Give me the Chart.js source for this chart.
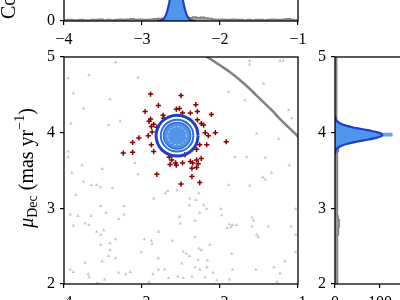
<!DOCTYPE html>
<html><head><meta charset="utf-8">
<script src="https://cdn.jsdelivr.net/npm/chart.js@4.4.0/dist/chart.umd.min.js"></script>
<style>
html,body{margin:0;padding:0;width:400px;height:300px;overflow:hidden;background:#fff;}
canvas{position:absolute;}
</style></head><body>
<canvas id="top" width="400" height="100" style="left:0;top:-49px"></canvas>
<canvas id="right" width="107" height="300" style="left:300px;top:0"></canvas>
<canvas id="main" width="400" height="300" style="left:0;top:0"></canvas>
<script>
// ---------- data ----------
const xTicks = [-4, -3, -2, -1];
const yTicks = [2, 3, 4, 5];
const topCountTicks = [0];
const rightCountTicks = [0, 100];

// pmRA histogram (all stars), bins of 0.05 from -4 to -1
const raBinStart = -4, raBinWidth = 0.05;
const raCounts = [3,4,3,3,4,3,3,4,4,5, 3,4,3,4,5,4,5,6,4,5, 4,4,5,6,7,7,8,9,10,12, 11,10,9,11,9,10,8,7,5,4, 5,4,4,5,4,4,3,4,3,4, 4,3,4,5,4,4,5,6,4,3];
// pmDec histogram (all stars), bins of 0.05 from 2 to 5
const decBinStart = 2, decBinWidth = 0.05;
const decCounts = [6,6,5,6,6,5,5,6,6,5, 5,6,6,7,8,10,9,7,6,5, 6,5,6,5,5,6,5,5,5,6, 5,5,5,6,6,7,8,9,7,6, 5,5,5,4,4,4,4,4,4,3, 4,3,4,4,3,4,3,4,3,4];
// member pmDec histogram, bins of 0.05 from 3.70
const memDecBinStart = 3.70, memDecBinWidth = 0.05;
const memDecCounts = [1,3,12,36,84,128,78,34,11,2,0];

// Gaussian fit curves (sampled)
const raFitX = [-2.81,-2.77,-2.74,-2.71,-2.68,-2.65,-2.62,-2.59,-2.56,-2.53,-2.50,-2.47,-2.44,-2.41,-2.38,-2.35,-2.31];
const raFitY = [0.1,0.8,3.1,9.6,24.3,50,84,114.6,127,114.6,84,50,24.3,9.6,3.1,0.8,0.1];
const decFitY = [3.72,3.76,3.79,3.82,3.85,3.88,3.91,3.94,3.97,4.00,4.03,4.06,4.09,4.12,4.15,4.18,4.22];
const decFitN = [0.25,1.5,4.6,12.0,26.2,48.1,74.2,96.3,105,96.3,74.2,48.1,26.2,12.0,4.6,1.5,0.25];

// field stars (pmRA, pmDec)
const fieldStars = [
[-3.34,4.93],[-3.95,4.72],[-3.68,4.76],[-3.05,4.73],[-3.88,4.52],[-3.75,4.32],[-3.41,4.44],[-3.91,4.12],[-3.43,4.10],[-3.28,4.15],[-3.95,3.75],[-3.95,3.68],[-3.77,3.57],[-3.51,3.52],[-3.09,3.60],
[-3.90,3.47],[-3.05,3.45],[-3.75,3.35],[-3.65,3.31],[-3.58,3.31],[-3.53,3.28],[-3.38,3.27],[-3.85,3.18],[-2.85,3.13],[-2.70,3.20],[-2.67,3.23],[-2.55,3.24],[-3.53,3.03],[-3.23,3.03],[-3.92,2.92],[-3.82,2.90],[-3.65,2.90],[-3.46,2.94],[-3.23,2.92],[-3.30,2.86],[-3.88,2.77],[-3.73,2.80],[-3.68,2.78],[-3.58,2.69],[-3.49,2.71],[-3.53,2.65],[-3.34,2.59],[-3.41,2.54],[-3.53,2.52],[-3.41,2.45],[-3.43,2.37],[-3.34,2.34],[-3.51,2.30],[-3.73,2.28],[-3.92,2.19],[-3.88,2.16],[-3.69,2.13],[-3.68,2.09],[-3.48,2.06],[-3.58,2.01],[-3.30,2.15],[-3.21,2.13],[-3.15,2.16],[-2.97,2.59],[-2.88,2.57],[-2.87,2.53],[-2.79,2.69],[-2.61,2.57],[-3.01,2.42],[-2.79,2.34],[-2.79,2.19],[-2.71,2.19],[-2.86,2.13],[-2.66,2.08],[-2.54,2.10],[-2.91,2.03],[-2.52,2.89],[-2.51,2.80],
[-1.45,3.41],[-1.42,3.38],[-1.34,3.47],[-1.89,3.31],[-1.62,3.30],[-2.27,3.20],[-2.39,3.13],[-2.31,3.11],[-2.39,3.04],[-2.21,3.04],[-2.17,2.99],[-2.26,2.94],[-1.99,2.99],[-1.98,2.91],[-2.32,2.84],[-1.91,2.74],[-1.88,2.79],[-1.79,2.78],[-1.84,2.78],[-1.86,2.75],[-1.59,2.88],[-1.57,2.84],[-1.59,2.76],[-1.38,2.76],[-1.53,2.65],[-1.51,2.62],[-1.09,2.76],[-1.03,2.99],[-1.03,2.65],[-1.03,2.42],[-2.32,2.62],[-2.13,2.52],[-2.47,2.43],[-2.43,2.40],[-2.39,2.37],[-2.27,2.47],[-2.24,2.45],[-1.85,2.40],[-2.28,2.32],[-2.16,2.31],[-2.49,2.27],[-2.32,2.22],[-2.26,2.19],[-2.17,2.22],[-2.09,2.15],[-1.84,2.19],[-1.54,2.19],[-1.31,2.22],[-1.17,2.30],[-1.23,2.14],[-1.27,2.03],[-2.47,2.08],[-2.36,2.10],[-2.19,2.09],[-2.04,2.05],[-1.88,2.06],
[-1.62,4.95],[-1.62,4.90],[-1.23,4.95],[-1.19,4.95],[-1.44,4.65],[-1.89,4.54],[-1.68,4.43],[-1.12,4.30],[-1.08,4.19],[-1.53,3.99],[-1.25,3.92],[-1.81,3.68],[-1.66,3.68],[-1.42,3.67],[-1.11,3.57],[-3.56,2.00]
];
// cluster members (pmRA, pmDec)
const members = [
[-2.89,4.51],[-2.79,4.36],[-2.96,4.28],[-2.50,4.49],[-2.56,4.31],[-2.52,4.32],[-2.73,4.23],[-2.72,4.19],[-2.89,4.18],[-2.91,4.15],[-2.85,4.11],[-2.88,4.08],[-2.81,4.07],[-2.87,4.01],[-2.92,3.96],[-3.04,3.93],[-3.12,3.87],[-2.88,3.84],[-2.85,3.75],[-3.12,3.74],[-3.24,3.73],[-2.65,3.68],[-2.62,3.64],[-2.64,3.58],[-2.57,3.60],
[-2.31,4.37],[-2.29,4.28],[-2.38,4.26],[-2.48,4.26],[-2.11,4.24],[-2.24,4.12],[-2.21,4.10],[-2.29,4.17],[-2.19,4.00],[-2.15,3.96],[-2.06,4.00],[-1.92,3.88],[-2.26,3.84],[-2.30,3.78],[-2.24,3.66],[-2.30,3.64],[-2.48,3.60],[-2.38,3.62],[-2.35,3.60],[-2.28,3.59],[-2.36,3.53],[-2.30,3.54],[-2.81,3.45],[-2.45,3.71],[-2.36,3.42],[-2.26,3.34],[-2.50,3.32],[-2.17,3.84],[-2.56,3.57]
];
// grey limiting curve
const arcPts = [[-2.30,5.08],[-2.15,4.99],[-2.00,4.89],[-1.87,4.80],[-1.75,4.70],[-1.64,4.60],[-1.53,4.49],[-1.43,4.39],[-1.33,4.29],[-1.23,4.18],[-1.12,4.07],[-1.02,3.97],[-0.92,3.86]];
// density contours
const contourOuter = [[-2.28,3.96],[-2.301,4.063],[-2.359,4.151],[-2.447,4.209],[-2.55,4.23],[-2.653,4.209],[-2.741,4.151],[-2.799,4.063],[-2.82,3.96],[-2.799,3.857],[-2.741,3.769],[-2.653,3.711],[-2.55,3.69],[-2.447,3.711],[-2.359,3.769],[-2.301,3.857],[-2.28,3.96]];
const contourDash = [[-2.31,3.96],[-2.328,4.052],[-2.38,4.13],[-2.458,4.182],[-2.55,4.20],[-2.642,4.182],[-2.72,4.13],[-2.772,4.052],[-2.79,3.96],[-2.772,3.868],[-2.72,3.79],[-2.642,3.738],[-2.55,3.72],[-2.458,3.738],[-2.38,3.79],[-2.328,3.868],[-2.31,3.96]];
const contourMid = [[-2.34,3.96],[-2.356,4.04],[-2.402,4.108],[-2.47,4.154],[-2.55,4.17],[-2.63,4.154],[-2.698,4.108],[-2.744,4.04],[-2.76,3.96],[-2.744,3.88],[-2.698,3.812],[-2.63,3.766],[-2.55,3.75],[-2.47,3.766],[-2.402,3.812],[-2.356,3.88],[-2.34,3.96]];
const contourCore = [[-2.375,3.96],[-2.388,4.027],[-2.426,4.084],[-2.483,4.122],[-2.55,4.135],[-2.617,4.122],[-2.674,4.084],[-2.712,4.027],[-2.725,3.96],[-2.712,3.893],[-2.674,3.836],[-2.617,3.798],[-2.55,3.785],[-2.483,3.798],[-2.426,3.836],[-2.388,3.893],[-2.375,3.96]];
const contourInner = [[-2.43,3.96],[-2.439,4.006],[-2.465,4.045],[-2.504,4.071],[-2.55,4.08],[-2.596,4.071],[-2.635,4.045],[-2.661,4.006],[-2.67,3.96],[-2.661,3.914],[-2.635,3.875],[-2.596,3.849],[-2.55,3.84],[-2.504,3.849],[-2.465,3.875],[-2.439,3.914],[-2.43,3.96]];

// ---------- helpers ----------
const FONT = '"Liberation Serif", "DejaVu Serif", serif';
const DARKBLUE = '#1c3fc8', MIDBLUE = '#2f6ae0', FILLBLUE = '#4f95ec', LIGHTBLUE = '#64a8f4';
const GREY = '#808080';
const fmt = v => (v < 0 ? '\u2212' + Math.abs(v) : String(v));
const pts = arr => arr.map(p => ({x: p[0], y: p[1]}));

function stepH(start, w, counts) { // vertical bars along x
  const out = [{x: start, y: 0}];
  counts.forEach((c, i) => { out.push({x: start + i * w, y: c}); out.push({x: start + (i + 1) * w, y: c}); });
  out.push({x: start + counts.length * w, y: 0});
  return out;
}
function stepV(start, w, counts) { // horizontal bars along y
  const out = [{x: 0, y: start}];
  counts.forEach((c, i) => { out.push({x: c, y: start + i * w}); out.push({x: c, y: start + (i + 1) * w}); });
  out.push({x: 0, y: start + counts.length * w});
  return out;
}
function axis(min, max, tickVals, fitSize, isX, extra) {
  return Object.assign({
    type: 'linear', min, max,
    afterBuildTicks: s => { s.ticks = tickVals.map(v => ({value: v})); },
    afterFit: s => { if (isX) s.height = fitSize; else s.width = fitSize; },
    grid: {drawOnChartArea: false, drawTicks: true, tickLength: 4, color: '#000', lineWidth: 1.2},
    border: {display: false},
    ticks: {font: {family: FONT, size: 16}, color: '#000', padding: 5, maxRotation: 0, autoSkip: false, callback: v => fmt(v)}
  }, extra || {});
}
const framePlugin = {
  id: 'frame',
  afterDraw(chart) {
    const a = chart.chartArea, ctx = chart.ctx;
    ctx.save(); ctx.strokeStyle = '#000'; ctx.lineWidth = 1.3;
    ctx.strokeRect(a.left, a.top, a.right - a.left, a.bottom - a.top);
    ctx.restore();
  }
};
const titlePlugin = {
  id: 'titles',
  afterDraw(chart) {
    const ctx = chart.ctx;
    // main y title: mu_Dec (mas yr^-1)
    const parts = [
      {t: '\u03bc', size: 20, style: 'italic', dy: 0},
      {t: 'Dec', size: 14, style: '', dy: 4},
      {t: ' (mas yr', size: 20, style: '', dy: 0},
      {t: '\u22121', size: 14, style: '', dy: -9},
      {t: ')', size: 20, style: '', dy: 0}
    ];
    let total = 0;
    parts.forEach(p => { ctx.font = `${p.style} ${p.size}px ${FONT}`; p.w = ctx.measureText(p.t).width; total += p.w; });
    ctx.save();
    ctx.fillStyle = '#000'; ctx.textBaseline = 'alphabetic'; ctx.textAlign = 'left';
    ctx.translate(33, 168); ctx.rotate(-Math.PI / 2);
    let cur = -total / 2;
    parts.forEach(p => { ctx.font = `${p.style} ${p.size}px ${FONT}`; ctx.fillText(p.t, cur, p.dy); cur += p.w; });
    ctx.restore();
    // top histogram y title (mostly cut off)
    ctx.save();
    ctx.fillStyle = '#000'; ctx.font = `20px ${FONT}`; ctx.textAlign = 'left';
    ctx.translate(15, 19); ctx.rotate(-Math.PI / 2);
    ctx.fillText('Counts', 0, 0);
    ctx.restore();
  }
};
const baseOpts = {responsive: false, animation: false, events: [], plugins: {legend: {display: false}, tooltip: {enabled: false}}};

// ---------- top histogram ----------
new Chart(document.getElementById('top'), {
  type: 'scatter',
  data: {datasets: [
    {data: pts(raFitX.map((x, i) => [x, raFitY[i]])), showLine: true, tension: 0.4, pointRadius: 0,
     borderColor: DARKBLUE, borderWidth: 2.2, backgroundColor: FILLBLUE, fill: 'shape', order: 1},
    {data: stepH(raBinStart, raBinWidth, raCounts), showLine: true, tension: 0, pointRadius: 0,
     borderColor: GREY, borderWidth: 1.5, backgroundColor: '#a8a8a8', fill: 'shape', order: 2}
  ]},
  options: Object.assign({}, baseOpts, {
    layout: {padding: {top: 0, right: 102, left: 0, bottom: 0}},
    scales: {
      x: axis(-4, -1, xTicks, 30, true),
      y: axis(0, 150, topCountTicks, 64, false)
    }
  }),
  plugins: [framePlugin]
});

// ---------- right histogram ----------
new Chart(document.getElementById('right'), {
  type: 'scatter',
  data: {datasets: [
    {data: pts(decFitN.map((n, i) => [n, decFitY[i]])), showLine: true, tension: 0.4, pointRadius: 0,
     borderColor: DARKBLUE, borderWidth: 2.2, backgroundColor: FILLBLUE, fill: 'shape', order: 1},
    {data: stepV(memDecBinStart, memDecBinWidth, memDecCounts), showLine: true, tension: 0, pointRadius: 0,
     borderColor: LIGHTBLUE, borderWidth: 0, backgroundColor: LIGHTBLUE, fill: 'shape', order: 2},
    {data: stepV(decBinStart, decBinWidth, decCounts), showLine: true, tension: 0, pointRadius: 0,
     borderColor: GREY, borderWidth: 1.5, backgroundColor: '#999999', fill: 'shape', order: 3}
  ]},
  options: Object.assign({}, baseOpts, {
    layout: {padding: {top: 57, right: 0, left: 0, bottom: 0}},
    scales: {
      x: axis(0, 160, rightCountTicks, 16, true),
      y: axis(2, 5, yTicks, 35, false)
    }
  }),
  plugins: [framePlugin]
});

// ---------- main scatter ----------
const ring = (arr, color, width, dash, order, fill) => ({
  data: pts(arr), showLine: true, tension: 0.4, pointRadius: 0, borderColor: color, borderWidth: width,
  borderDash: dash || [], backgroundColor: fill || 'rgba(0,0,0,0)', fill: fill ? 'shape' : false, order
});
new Chart(document.getElementById('main'), {
  type: 'scatter',
  data: {datasets: [
    {data: pts(fieldStars), pointStyle: 'triangle', pointRadius: 2, backgroundColor: '#c6c6c6', borderWidth: 0, order: 10},
    {data: pts(arcPts), showLine: true, tension: 0.4, pointRadius: 0, borderColor: GREY, borderWidth: 2.5, order: 9},
    {data: pts(members), pointStyle: 'cross', pointRadius: 2.6, borderColor: '#8b0000', borderWidth: 1.5, order: 8},
    ring(contourCore, MIDBLUE, 1.5, null, 5, FILLBLUE),
    ring(contourInner, 'rgba(255,255,255,0.55)', 1, [2, 2], 4),
    ring(contourMid, MIDBLUE, 2, null, 3),
    ring(contourDash, '#ffffff', 1.3, [3, 2], 2),
    ring(contourOuter, DARKBLUE, 3, null, 1)
  ]},
  options: Object.assign({}, baseOpts, {
    layout: {padding: {top: 57, right: 102, left: 0, bottom: 0}},
    scales: {
      x: axis(-4, -1, xTicks, 16, true),
      y: axis(2, 5, yTicks, 64, false)
    }
  }),
  plugins: [framePlugin, titlePlugin]
});
</script>
</body></html>
